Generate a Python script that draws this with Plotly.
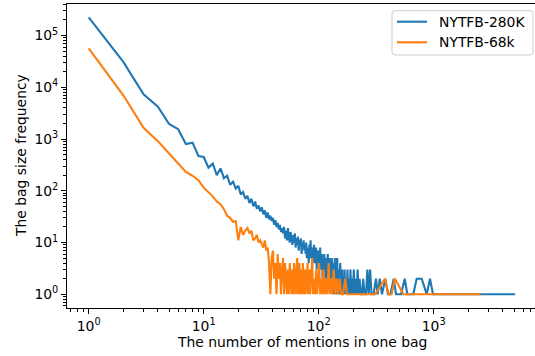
import plotly.graph_objects as go

# ---------------- data ----------------
series_names = ["NYTFB-280K", "NYTFB-68k"]

# NYTFB-280K : bag size -> frequency
bag_280k = list(range(1, 146)) + [
    146, 148, 150, 152, 154, 156, 158, 160, 162, 164, 166, 168, 170, 173, 175, 178, 180,
    183, 186, 189, 192, 195, 198, 202, 206, 210, 214, 218, 222, 227, 232, 238, 244, 250,
    258, 265, 272, 280, 288, 300, 315, 325, 340, 355, 380, 400, 420, 450, 470, 520, 560,
    590, 640, 665, 711, 787, 869, 929, 986, 5100]
freq_280k = [
    224000, 31000, 7300, 4200, 1950, 1550, 800, 850, 470, 450,
    280, 335, 200, 270, 175, 195, 130, 150, 110, 125,
    85, 95, 70, 80, 58, 70, 50, 62, 45, 52,
    40, 48, 35, 42, 30, 38, 28, 33, 26, 30,
    22, 27, 20, 24, 18, 22, 16, 19, 15, 20,
    12, 17, 11, 19, 13, 10, 16, 12, 9, 14,
    10, 15, 8, 12, 9, 13, 7, 11, 9, 12,
    6, 10, 8, 11, 7, 9, 6, 10, 5, 8,
    7, 4, 9, 6, 11, 5, 7, 4, 8, 6,
    9, 4, 7, 5, 8, 3, 6, 4, 7, 5,
    6, 3, 8, 4, 5, 3, 6, 2, 5, 4,
    3, 6, 2, 4, 3, 5, 2, 4, 3, 6,
    2, 3, 4, 2, 5, 3, 2, 4, 3, 2,
    5, 2, 3, 1, 4, 2, 3, 1, 5, 2,
    3, 2, 4, 1, 5,
    2, 3, 1, 2, 4, 1, 2, 3, 1, 2, 1, 3, 1, 2, 1, 3, 1,
    2, 1, 3, 1, 2, 1, 3, 1, 2, 1, 3, 1, 2, 1, 1, 2, 1,
    1, 3, 1, 3, 1, 1, 2, 1, 2, 1, 2, 1, 1, 2, 1, 1, 2,
    1, 1, 1, 2, 2, 1, 2, 1, 1]

# NYTFB-68k : bag size -> frequency
bag_68k = list(range(1, 75)) + [
    76, 77, 78, 80, 81, 83, 84, 86, 88, 89, 91, 93, 95, 97, 99, 101, 103, 105, 108, 110,
    113, 116, 119, 122, 125, 128, 131, 135, 139, 143, 147, 152, 157, 163, 170, 176, 185,
    195, 210, 230, 260, 310, 377, 405, 430, 460, 545, 2560]
freq_68k = [
    56600, 7000, 1650, 910, 525, 340, 232, 195, 160, 115,
    95, 78, 62, 55, 44, 33, 30, 25, 26, 11,
    20, 14, 17, 19, 15, 17, 11, 12, 14, 10,
    11, 9, 8, 11, 7, 8, 4, 1, 5, 7,
    2, 4, 1, 6, 2, 4, 1, 3, 5, 1,
    4, 2, 1, 3, 1, 4, 2, 1, 3, 1,
    4, 2, 1, 3, 5, 1, 2, 4, 1, 3,
    1, 2, 4, 1,
    3, 1, 2, 4, 1, 3, 1, 2, 5, 1, 2, 1, 3, 1, 2, 4, 1, 2, 1, 3,
    1, 2, 1, 4, 1, 2, 1, 3, 1, 2, 1, 2, 1, 1, 2, 1, 1,
    1, 1, 1, 1, 1, 2, 1, 1, 2, 1, 1]

series_x = [bag_280k, bag_68k]
series_y = [freq_280k, freq_68k]
series_colors = ["#1f77b4", "#ff7f0e"]

x_tick_vals = [1, 10, 100, 1000]
x_tick_text = ["10<sup>0</sup>", "10<sup>1</sup>", "10<sup>2</sup>", "10<sup>3</sup>"]
y_tick_vals = [1, 10, 100, 1000, 10000, 100000]
y_tick_text = ["10<sup>0</sup>", "10<sup>1</sup>", "10<sup>2</sup>",
               "10<sup>3</sup>", "10<sup>4</sup>", "10<sup>5</sup>"]

x_title = "The number of mentions in one bag"
y_title = "The bag size frequency"

# ---------------- figure ----------------
FONT = "DejaVu Sans"
FS = 13.9
W, H = 535, 356
ML, MR, MT, MB = 67, 0, 4, 48
PW, PH = W - ML - MR, H - MT - MB


def px_x(p):
    return (p - ML) / PW


def px_y(p):
    return (H - MB - p) / PH


fig = go.Figure()
for xs, ys, name, col in zip(series_x, series_y, series_names, series_colors):
    fig.add_trace(go.Scatter(x=xs, y=ys, mode="lines", name=name, showlegend=False,
                             line=dict(color=col, width=2.1)))


def minor_vals(lo_exp, hi_exp):
    return [m * 10 ** e for e in range(lo_exp, hi_exp + 1) for m in range(2, 10)]


axis_common = dict(
    type="log", showgrid=False, zeroline=False,
    showline=True, linecolor="black", linewidth=1.1,
    ticks="outside", ticklen=4.9, tickwidth=1.1, tickcolor="black",
    tickfont=dict(family=FONT, size=FS, color="black"),
    tickmode="array",
)

# legend drawn as box + sample lines + texts (matplotlib-like frame)
lx0, lx1, ly0, ly1, r = 392, 533, 10.7, 55, 3
rx, ry = r / PW, r / PH
X0, X1, Y0, Y1 = px_x(lx0), px_x(lx1), px_y(ly1), px_y(ly0)
box_path = (f"M {X0+rx},{Y0} L {X1-rx},{Y0} Q {X1},{Y0} {X1},{Y0+ry} "
            f"L {X1},{Y1-ry} Q {X1},{Y1} {X1-rx},{Y1} L {X0+rx},{Y1} "
            f"Q {X0},{Y1} {X0},{Y1-ry} L {X0},{Y0+ry} Q {X0},{Y0} {X0+rx},{Y0} Z")
shapes = [dict(type="path", path=box_path, xref="paper", yref="paper",
               line=dict(color="#cccccc", width=1), fillcolor="rgba(255,255,255,0.8)",
               layer="above")]
annotations = []
row_y = [21.7, 42.3]
for name, col, ry_px in zip(series_names, series_colors, row_y):
    shapes.append(dict(type="line", xref="paper", yref="paper",
                       x0=px_x(397), x1=px_x(427), y0=px_y(ry_px), y1=px_y(ry_px),
                       line=dict(color=col, width=2.1), layer="above"))
    annotations.append(dict(text=name, xref="paper", yref="paper",
                            x=px_x(437), y=px_y(ry_px), xanchor="left", yanchor="middle",
                            showarrow=False,
                            font=dict(family=FONT, size=FS, color="black")))

annotations += [
    dict(text=x_title, xref="paper", yref="paper", x=px_x(302), y=px_y(342),
         xanchor="center", yanchor="middle", showarrow=False,
         font=dict(family=FONT, size=FS, color="black")),
    dict(text=y_title, xref="paper", yref="paper", x=px_x(21), y=0.5,
         xanchor="center", yanchor="middle", textangle=-90, showarrow=False,
         font=dict(family=FONT, size=FS, color="black")),
]

fig.update_layout(
    width=W, height=H,
    margin=dict(l=ML, r=MR, t=MT, b=MB),
    paper_bgcolor="white", plot_bgcolor="white",
    font=dict(family=FONT, size=FS, color="black"),
    showlegend=False,
    xaxis=dict(axis_common, range=[-0.1887, 3.881], mirror=True,
               tickvals=x_tick_vals, ticktext=x_tick_text,
               minor=dict(tickmode="array", tickvals=minor_vals(-1, 3), ticks="outside",
                          ticklen=2.8, tickwidth=0.8, tickcolor="black", showgrid=False)),
    yaxis=dict(axis_common, range=[-0.265, 5.609], mirror=False,
               tickvals=y_tick_vals, ticktext=y_tick_text,
               minor=dict(tickmode="array", tickvals=minor_vals(-1, 5), ticks="outside",
                          ticklen=2.8, tickwidth=0.8, tickcolor="black", showgrid=False)),
    shapes=shapes,
    annotations=annotations,
)

fig.write_html("out.html")
